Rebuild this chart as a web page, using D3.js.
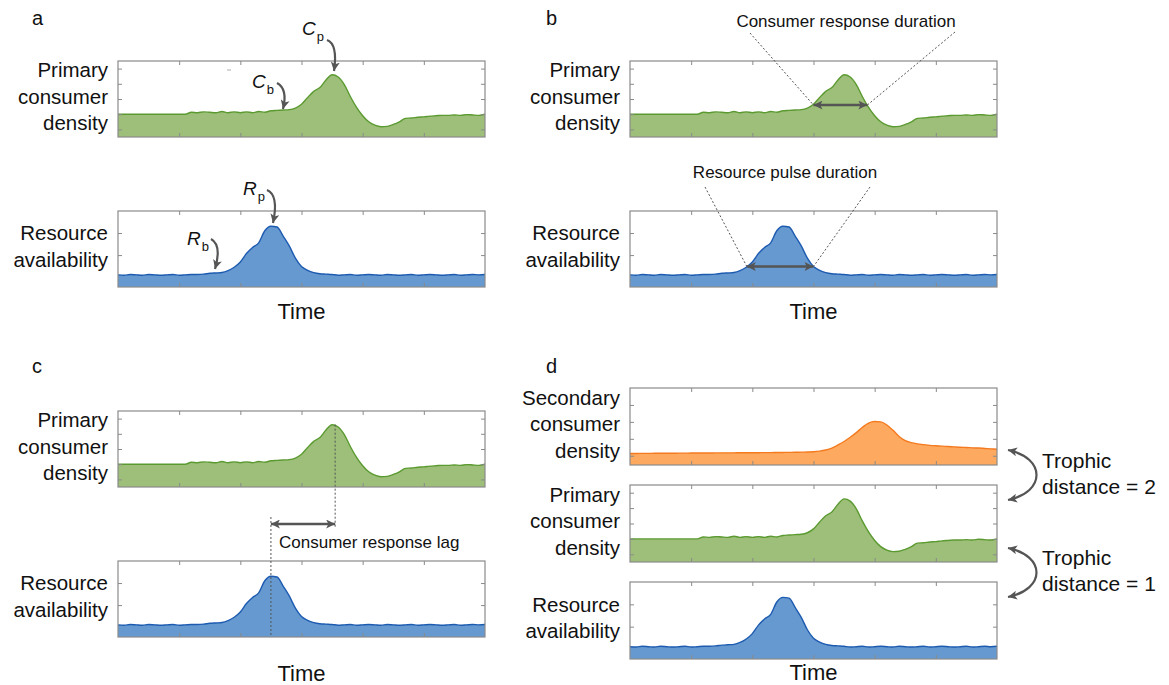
<!DOCTYPE html>
<html><head><meta charset="utf-8">
<script src="https://cdn.jsdelivr.net/npm/d3@7"></script>
<style>
body{margin:0;background:#fff}
svg{display:block}
text{font-family:"Liberation Sans",Arial,Helvetica,sans-serif;fill:#111}
</style>
</head><body>
<svg id="c" width="1169" height="685"></svg>
<script>
// ---------- data ----------
const time = [0,0.1,0.2,0.3,0.4,0.5,0.6,0.7,0.8,0.9,1.0,1.1,1.2,1.3,1.4,1.5,1.6,1.7,1.8,1.9,2.0,2.1,2.2,2.3,2.4,2.5,2.6,2.7,2.8,2.9,3.0,3.1,3.2,3.3,3.4,3.5,3.6,3.7,3.8,3.9,4.0,4.1,4.2,4.3,4.4,4.5,4.6,4.7,4.8,4.9,5.0,5.1,5.2,5.3,5.4,5.5,5.6,5.7,5.8,5.9,6.0];
const consumer = [0.30,0.30,0.30,0.30,0.30,0.30,0.30,0.30,0.30,0.30,0.30,0.30,0.325,0.32,0.33,0.325,0.32,0.335,0.32,0.33,0.32,0.33,0.32,0.335,0.325,0.345,0.35,0.355,0.36,0.38,0.43,0.52,0.60,0.65,0.75,0.82,0.79,0.69,0.53,0.39,0.28,0.20,0.155,0.135,0.14,0.165,0.20,0.245,0.25,0.26,0.265,0.275,0.28,0.285,0.285,0.29,0.285,0.295,0.29,0.285,0.30];
const resource = [0.16,0.155,0.165,0.16,0.155,0.165,0.16,0.155,0.16,0.165,0.155,0.16,0.165,0.165,0.17,0.18,0.185,0.19,0.215,0.26,0.33,0.44,0.52,0.58,0.74,0.80,0.79,0.67,0.54,0.38,0.27,0.22,0.19,0.175,0.17,0.165,0.155,0.16,0.165,0.155,0.16,0.165,0.16,0.155,0.165,0.16,0.155,0.16,0.165,0.155,0.16,0.165,0.16,0.155,0.16,0.165,0.155,0.16,0.165,0.16,0.165];
const secondary = [0.150,0.150,0.151,0.151,0.152,0.152,0.153,0.153,0.154,0.154,0.155,0.155,0.156,0.156,0.157,0.157,0.158,0.158,0.159,0.159,0.160,0.160,0.161,0.161,0.162,0.163,0.164,0.165,0.167,0.169,0.172,0.18,0.195,0.22,0.26,0.305,0.36,0.42,0.49,0.545,0.565,0.56,0.52,0.45,0.37,0.315,0.29,0.275,0.265,0.255,0.25,0.245,0.24,0.235,0.23,0.227,0.223,0.22,0.215,0.21,0.205];

const xTicks = [1,2,3,4,5];
const consumerTicks = [0.1,0.3,0.5,0.7,0.9];
const resourceTicks = [0.42,0.71];
const secondaryTicks = [0.12,0.34,0.56,0.78];

const consumerLabel = ["Primary","consumer","density"];
const resourceLabel = ["Resource","availability"];
const secondaryLabel = ["Secondary","consumer","density"];

// annotation values (time units / value units)
const consumerDuration = [3.0, 3.88], consumerDurationLevel = 0.42;
const resourceDuration = [1.91, 3.0], resourceDurationLevel = 0.27;
const resourcePeakTime = 2.5, consumerPeakTime = 3.55;

// ---------- styles ----------
const styles = {
  consumer: {values: consumer, ticks: consumerTicks, label: consumerLabel, fill: "#9dbf79", stroke: "#5b9a31"},
  resource: {values: resource, ticks: resourceTicks, label: resourceLabel, fill: "#6699cf", stroke: "#1d5bb0"},
  secondary: {values: secondary, ticks: secondaryTicks, label: secondaryLabel, fill: "#fdaa60", stroke: "#f47a1f"}
};
const boxColor = "#8a8a8a", arrowColor = "#555";

const svg = d3.select("#c");
const defs = svg.append("defs");
function marker(id, len, wid) {
  defs.append("marker").attr("id", id)
    .attr("viewBox", "0 0 10 10").attr("refX", 10).attr("refY", 5)
    .attr("markerUnits", "userSpaceOnUse")
    .attr("markerWidth", len).attr("markerHeight", wid)
    .attr("orient", "auto-start-reverse")
    .append("path").attr("d", "M0,0 L10,5 L0,10 L2.5,5 z").attr("fill", arrowColor);
}
marker("ah", 11, 9);
marker("ahs", 10, 9);

function panel(key, x0, y0, w, h) {
  const s = styles[key];
  const x = d3.scaleLinear().domain([0, 6]).range([x0, x0 + w]);
  const y = d3.scaleLinear().domain([0, 1]).range([y0 + h, y0]);
  const data = time.map((t, i) => [t, s.values[i]]);
  const g = svg.append("g");
  g.append("path")
    .attr("d", d3.area().x(d => x(d[0])).y0(y(0)).y1(d => y(d[1])).curve(d3.curveMonotoneX)(data))
    .attr("fill", s.fill);
  g.append("path")
    .attr("d", d3.line().x(d => x(d[0])).y(d => y(d[1])).curve(d3.curveMonotoneX)(data))
    .attr("fill", "none").attr("stroke", s.stroke).attr("stroke-width", 1.4);
  const ax = (axis, tr) => g.append("g").attr("transform", tr)
    .call(axis.tickSize(4).tickFormat(""))
    .call(a => a.select(".domain").remove())
    .call(a => a.selectAll("line").attr("stroke", boxColor));
  ax(d3.axisBottom(x).tickValues(xTicks), `translate(0,${y0})`);
  ax(d3.axisTop(x).tickValues(xTicks), `translate(0,${y0 + h})`);
  ax(d3.axisRight(y).tickValues(s.ticks), `translate(${x0},0)`);
  ax(d3.axisLeft(y).tickValues(s.ticks), `translate(${x0 + w},0)`);
  g.append("rect").attr("x", x0).attr("y", y0).attr("width", w).attr("height", h)
    .attr("fill", "none").attr("stroke", boxColor).attr("stroke-width", 1.2);
  // y label
  const n = s.label.length, cy = y0 + h / 2;
  const t = g.append("text").attr("text-anchor", "end").style("font-size", "20.5px");
  s.label.forEach((l, i) => t.append("tspan").attr("x", x0 - 10)
    .attr("y", cy + (i - (n - 1) / 2) * 26.5 + 4.5).text(l));
  return {x, y};
}

function text(x, y, str, size, anchor) {
  return svg.append("text").attr("x", x).attr("y", y).attr("text-anchor", anchor || "start")
    .style("font-size", size + "px").text(str);
}
function dashed(x1, y1, x2, y2) {
  svg.append("line").attr("x1", x1).attr("y1", y1).attr("x2", x2).attr("y2", y2)
    .attr("stroke", "#555").attr("stroke-width", 1).attr("stroke-dasharray", "2,2");
}
function dblArrow(x1, y1, x2, y2) {
  svg.append("line").attr("x1", x1).attr("y1", y1).attr("x2", x2).attr("y2", y2)
    .attr("stroke", arrowColor).attr("stroke-width", 2.5)
    .attr("marker-start", "url(#ah)").attr("marker-end", "url(#ah)");
}
function curveArrow(d, both) {
  const p = svg.append("path").attr("d", d).attr("fill", "none")
    .attr("stroke", arrowColor).attr("stroke-width", 2.2).attr("marker-end", "url(#ahs)");
  if (both) p.attr("marker-start", "url(#ahs)");
}
function sym(x, y, letter, sub) {
  const t = svg.append("text").attr("x", x).attr("y", y).style("font-size", "19px");
  t.append("tspan").style("font-style", "italic").text(letter);
  t.append("tspan").attr("dx", 1).attr("dy", 6).style("font-size", "13px").text(sub);
}

// ---------- panel a ----------
text(32, 25, "a", 20);
const aC = panel("consumer", 118, 61, 367, 76);
const aR = panel("resource", 118, 211, 367, 76);
text(301.5, 319, "Time", 22, "middle");
sym(302, 35, "C", "p");
curveArrow("M327,40 Q338,44 334,71");
sym(252, 88, "C", "b");
curveArrow("M277,83 Q288,89 283,109");
sym(243, 195, "R", "p");
curveArrow("M267,190 Q279,195 273,223");
sym(187, 245, "R", "b");
curveArrow("M211,239 Q222,245 215,269");
svg.append("line").attr("x1", 227).attr("x2", 231).attr("y1", 70).attr("y2", 70).attr("stroke", "#bbb").attr("stroke-width", 1.2);

// ---------- panel b ----------
text(546, 25, "b", 20);
const bC = panel("consumer", 630, 61, 367, 76);
const bR = panel("resource", 630, 211, 367, 76);
text(813.5, 319, "Time", 22, "middle");
text(846, 27, "Consumer response duration", 17, "middle");
{
  const yl = bC.y(consumerDurationLevel), xa = bC.x(consumerDuration[0]), xb = bC.x(consumerDuration[1]);
  dashed(750, 33, xa, yl); dashed(955, 32, xb, yl);
  dblArrow(xa, yl, xb, yl);
}
text(785, 178, "Resource pulse duration", 17, "middle");
{
  const yl = bR.y(resourceDurationLevel), xa = bR.x(resourceDuration[0]), xb = bR.x(resourceDuration[1]);
  dashed(705, 187, xa, yl); dashed(870, 187, xb, yl);
  dblArrow(xa, yl, xb, yl);
}

// ---------- panel c ----------
text(32, 373, "c", 20);
const cC = panel("consumer", 118, 411, 367, 76);
const cR = panel("resource", 118, 561, 367, 76);
text(301.5, 681, "Time", 22, "middle");
{
  const xc = cC.x(consumerPeakTime), xr = cR.x(resourcePeakTime);
  dashed(xc, cC.y(0.82), xc, 527);
  dashed(xr, 517, xr, 637);
  dblArrow(xr, 524, xc, 524);
  text(279, 548, "Consumer response lag", 17);
}

// ---------- panel d ----------
text(546, 373, "d", 20);
panel("secondary", 630, 388, 367, 77);
panel("consumer", 630, 485, 367, 77);
panel("resource", 630, 582, 367, 77);
text(813.5, 680, "Time", 22, "middle");
curveArrow("M1008,450 C1046,458 1046,492 1008,500", true);
curveArrow("M1008,548 C1046,556 1046,589 1008,597", true);
text(1042, 468, "Trophic", 21);
text(1042, 494, "distance = 2", 21);
text(1042, 565, "Trophic", 21);
text(1042, 591, "distance = 1", 21);
</script>
</body></html>
